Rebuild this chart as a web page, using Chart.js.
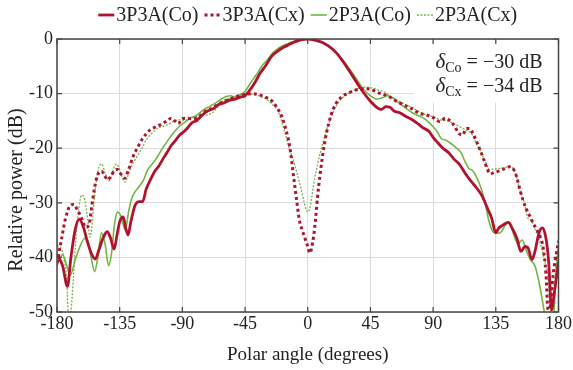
<!DOCTYPE html>
<html>
<head>
<meta charset="utf-8">
<script src="https://cdn.jsdelivr.net/npm/chart.js@4.4.1/dist/chart.umd.min.js"></script>
<style>
  html, body { margin: 0; padding: 0; background: #fff; }
</style>
</head>
<body>
<canvas id="grafico" width="573" height="370"></canvas>
<script>
// === Dados ===
const angulosTicks = [-180, -135, -90, -45, 0, 45, 90, 135, 180];
const potenciaTicks = [0, -10, -20, -30, -40, -50];
const nomes = ['3P3A(Co)', '3P3A(Cx)', '2P3A(Co)', '2P3A(Cx)'];

// [ângulo (graus), potência relativa (dB)]
const co3p3a = [
  [-180,-39.5],[-176,-41.5],[-172.5,-45.3],[-170,-40],[-167,-35],[-164,-33],[-161,-34.5],[-158,-37.3],
  [-155,-39.5],[-152.5,-40.3],[-150,-38.7],[-147,-36.5],[-144,-35.3],[-141.5,-36.5],[-139,-38.5],[-137,-36],
  [-135,-33.5],[-132.5,-32.6],[-130.5,-34.8],[-129,-35.9],[-127,-33.5],[-124,-30.5],[-121,-29.8],[-118.5,-29.8],
  [-116,-27.5],[-113,-25.8],[-110,-24.3],[-107,-23.3],[-104,-22],[-101,-20.8],[-98,-19.5],[-95,-18.6],
  [-92,-17.6],[-89,-17],[-86,-16.2],[-83,-15.3],[-80,-15],[-76,-14],[-72,-13.2],[-68,-12.8],[-64,-12],
  [-60,-11.7],[-56,-11.2],[-52,-11],[-48,-10.6],[-45,-10.4],[-42,-9.5],[-38,-8],[-34,-6.2],[-30,-4.8],
  [-26,-3.2],[-22,-2.3],[-18,-1.6],[-14,-1.1],[-10,-0.6],[-5,-0.15],[0,0],[5,-0.2],[10,-0.6],[15,-1.3],
  [20,-2.4],[25,-4],[30,-5.9],[35,-7.9],[40,-9.8],[45,-11.4],[50,-12.6],[53,-12.9],[56,-12.4],[59,-12.5],
  [62,-13.2],[66,-13.5],[70,-14.1],[75,-14.8],[79,-15.5],[83,-16.3],[87,-16.9],[90,-18],[93,-18.9],[97,-20],
  [101,-20.8],[105,-22],[109,-23],[113,-24.6],[117,-26],[121,-27.2],[125,-28.7],[129,-31],[132,-32.8],
  [135,-35.5],[137,-34.7],[140,-34.1],[144,-33.6],[147,-34.8],[150,-36.4],[153,-38.9],[156,-38],[158,-38.2],
  [161,-40.4],[163,-39],[166,-35.5],[168.5,-34.6],[171,-36.5],[173,-41],[175,-49.6],[177,-46.5],[180,-40.8]
];

const cx3p3a = [
  [-180,-41],[-177,-37],[-174,-33],[-170.5,-30.5],[-168,-30.3],[-165,-31.5],[-162,-33],[-159.5,-34.5],
  [-157,-34],[-155,-30.5],[-152.5,-26.5],[-150,-24.5],[-148,-24.2],[-146,-25],[-143.5,-25.8],[-141,-25],
  [-138.5,-24],[-136.5,-23.9],[-134,-24.8],[-131.5,-25.5],[-129,-24.2],[-125.5,-21.6],[-122,-19.8],[-119,-18.4],
  [-116,-17.4],[-113,-16.6],[-109,-16.1],[-105,-15.6],[-101,-15],[-98,-14.5],[-95.5,-15],[-93,-15.5],
  [-90,-14.6],[-87,-14.5],[-83,-14.6],[-80,-14.5],[-76,-13.8],[-72,-13],[-68,-12.6],[-64,-11.9],[-60,-11.4],
  [-56,-11],[-52,-10.6],[-48,-10.3],[-44,-10.1],[-40,-10],[-35,-10.2],[-30,-10.7],[-26,-11.3],[-22,-12.6],
  [-19,-14],[-16,-16.3],[-13,-19.6],[-10,-25.5],[-8,-29.5],[-6,-33.2],[-4,-35],[-2,-36.5],[0,-38],
  [1.5,-39.2],[3.5,-37.3],[5,-34.5],[7,-29],[9,-24.5],[12,-19.2],[15,-15.5],[18,-13],[22,-11.2],
  [26,-10.3],[30,-9.8],[35,-9.3],[40,-9.1],[45,-9.2],[50,-9.8],[55,-10.2],[60,-10.8],[65,-11.6],[70,-12.2],
  [75,-12.8],[80,-13.6],[85,-13.9],[90,-14.4],[94.5,-15.1],[99,-14.5],[104,-15.5],[109,-17.4],[111,-17.6],
  [114,-16.4],[116,-16.4],[119,-17.5],[122,-19.3],[126,-21.8],[129,-23.9],[131,-24.7],[134,-24.4],
  [137,-24.2],[141,-23.8],[145,-23.4],[148,-24],[150,-25.3],[152,-27.3],[154.5,-29.5],[157,-31.2],
  [159.5,-32.5],[162,-33.8],[164.5,-35],[167,-36.3],[169,-38.2],[171,-43],[172.5,-49.6],[174,-49],
  [176,-43.5],[178,-40],[180,-37]
];

const co2p3a = [
  [-180,-41.5],[-176,-39.5],[-173,-41.5],[-170.5,-43.3],[-167,-40.5],[-163.5,-38],[-160,-36.5],[-158,-36.8],
  [-155.5,-40],[-153,-42.6],[-151,-40.5],[-148,-35.5],[-145.5,-37.5],[-143,-41.5],[-141,-39.5],[-138.5,-33.5],
  [-136.5,-31.7],[-134,-32.5],[-131,-35],[-128.5,-31.5],[-126.5,-29.3],[-124,-28],[-121,-27],[-118,-25.9],
  [-115,-24],[-112,-23],[-109,-22],[-105,-20.3],[-101,-18.8],[-97,-17.4],[-93,-16.2],[-89,-15.4],[-85,-14.6],
  [-80,-14],[-75,-13],[-70,-12.3],[-66,-11.7],[-62,-11],[-58,-10.5],[-55,-10.4],[-52,-10.8],[-48.5,-10.2],
  [-45,-9.6],[-41,-8],[-37,-6.6],[-33,-5],[-29,-3.8],[-25,-2.5],[-20,-1.5],[-15,-0.9],[-10,-0.4],[-5,-0.1],
  [0,0],[5,-0.1],[10,-0.5],[15,-1.2],[20,-2.3],[25,-3.8],[30,-5.5],[35,-7.3],[40,-9.2],[45,-10.4],[50,-11],
  [54,-10.7],[57,-10.4],[61,-10.8],[65,-11.6],[70,-12.6],[75,-13.5],[80,-14.1],[85,-14.8],[89,-15.8],
  [93,-17],[96,-18.3],[99,-18.5],[102,-19],[106,-19.8],[110,-20.8],[113,-22.5],[116,-23.8],[118,-24],
  [121,-25.2],[124,-27],[127,-29.6],[130,-33.3],[133,-35.3],[136,-35.6],[139,-35.3],[142,-34],[145,-33.6],
  [148,-36],[151,-37.5],[154,-36.8],[157,-38.8],[160,-40.5],[163,-41.5],[166,-44.5],[168.5,-48],[170.5,-51],
  [173,-55],[176,-53],[178,-44],[180,-38]
];

const cx2p3a = [
  [-180,-37.8],[-176.5,-38.6],[-174.5,-41],[-173,-44],[-171.5,-52],[-170,-50],[-168.3,-44],[-166,-35],
  [-164,-30.5],[-162.3,-28.6],[-160,-29.5],[-158,-33],[-156.3,-36.3],[-155,-34.5],[-153.5,-30],[-151.5,-25.5],
  [-150,-23.5],[-148,-22.9],[-145.5,-24.5],[-143,-26],[-141,-25.3],[-139,-23.5],[-137.2,-22.9],[-135,-24],
  [-133,-25.5],[-131,-26.2],[-129,-25],[-126,-23],[-122.5,-21.5],[-119,-20],[-116,-18.5],[-112,-17.3],
  [-108,-16.4],[-104,-16],[-100,-15.6],[-96,-15],[-92,-14.8],[-88,-14.9],[-84,-14.5],[-80,-14.2],[-76,-14],
  [-72,-13.9],[-68,-13.4],[-65,-12.6],[-62,-11.5],[-58,-11],[-54,-10.7],[-50,-10.3],[-45,-10],[-40,-10.1],
  [-35,-10.4],[-30,-11],[-26,-11.8],[-23,-12.6],[-20.5,-13.7],[-18,-15.8],[-15.5,-18],[-13,-20.3],
  [-10.8,-21.8],[-8,-24.3],[-5,-27.2],[-2.5,-30],[0,-31.7],[1.5,-31],[3,-28.8],[5,-25.5],[7,-23],[9,-20.8],
  [12,-18],[15,-15.5],[18,-13.5],[21,-12],[25,-10.7],[30,-9.8],[35,-9.2],[40,-8.8],[45,-8.9],[50,-9.3],
  [55,-9.7],[60,-10.6],[65,-11.3],[70,-12],[75,-12.6],[80,-13.3],[85,-13.9],[90,-14.2],[95,-14.8],[100,-15],
  [105,-15.5],[110,-16.2],[115,-16.9],[118,-17.5],[121,-19.2],[124,-20.5],[127,-22.2],[130.5,-23.9],
  [134,-23.8],[138,-23.7],[142,-23.5],[146,-23.4],[149.5,-24.9],[152,-27.5],[155.5,-30],[158,-32.8],
  [160.5,-33.2],[163,-34.8],[166,-36.6],[168,-38.5],[170,-40.5],[172.5,-43.5],[174.5,-50],[176,-48],
  [178,-42],[180,-37]
];

// === Estilo ===
const fonte = '"Liberation Serif", "Times New Roman", serif';
const vermelho = '#b0122f';
const verde = '#74b442';
const corTexto = '#222';

function pontos(lista) {
  return lista.map(p => ({ x: p[0], y: p[1] }));
}

// === Plugin: moldura, ticks internos, anotação, legenda e título do eixo y ===
const extras = {
  id: 'extras',
  beforeDatasetsDraw(chart) {
    const { ctx, chartArea: a, scales } = chart;
    // fundo branco da caixa de texto (cobre a grade)
    const x0 = scales.x.getPixelForValue(76);
    const y0 = scales.y.getPixelForValue(-1);
    const y1 = scales.y.getPixelForValue(-11.6);
    ctx.save();
    ctx.fillStyle = '#fff';
    ctx.fillRect(x0, y0, a.right - x0 - 2, y1 - y0);
    ctx.restore();
  },
  afterDraw(chart) {
    const { ctx, chartArea: a, scales } = chart;
    ctx.save();
    // moldura
    ctx.strokeStyle = '#444';
    ctx.lineWidth = 1.5;
    ctx.strokeRect(a.left, a.top, a.right - a.left, a.bottom - a.top);
    // ticks internos
    ctx.lineWidth = 1.2;
    ctx.beginPath();
    angulosTicks.forEach(v => {
      const px = scales.x.getPixelForValue(v);
      ctx.moveTo(px, a.bottom); ctx.lineTo(px, a.bottom - 5);
      ctx.moveTo(px, a.top); ctx.lineTo(px, a.top + 5);
    });
    potenciaTicks.forEach(v => {
      const py = scales.y.getPixelForValue(v);
      ctx.moveTo(a.left, py); ctx.lineTo(a.left + 5, py);
      ctx.moveTo(a.right, py); ctx.lineTo(a.right - 5, py);
    });
    ctx.stroke();

    // anotação δ
    ctx.fillStyle = corTexto;
    ctx.textBaseline = 'alphabetic';
    const linhas = [['Co', ' = \u221230 dB'], ['Cx', ' = \u221234 dB']];
    linhas.forEach((l, i) => {
      const base = a.top + 29 + i * 24;
      ctx.font = `italic 21px ${fonte}`;
      const wd = ctx.measureText('\u03B4').width;
      ctx.font = `14px ${fonte}`;
      const ws = ctx.measureText(l[0]).width;
      ctx.font = `20px ${fonte}`;
      const wr = ctx.measureText(l[1]).width;
      let x = a.right - 16 - wr - ws - wd;
      ctx.font = `italic 21px ${fonte}`;
      ctx.fillText('\u03B4', x, base);
      x += wd;
      ctx.font = `14px ${fonte}`;
      ctx.fillText(l[0], x, base + 4);
      x += ws;
      ctx.font = `20px ${fonte}`;
      ctx.fillText(l[1], x, base);
    });

    // legenda
    const ds = chart.data.datasets;
    const amostra = 16, vao = 2, esp = 6;
    ctx.font = `20px ${fonte}`;
    const larguras = ds.map(d => amostra + vao + ctx.measureText(d.label).width);
    const total = larguras.reduce((s, w) => s + w, 0) + esp * (ds.length - 1);
    let lx = (a.left + a.right) / 2 - total / 2;
    const ly = 15;
    ds.forEach((d, i) => {
      ctx.strokeStyle = d.borderColor;
      ctx.lineWidth = d.borderWidth;
      ctx.setLineDash(d.borderDash || []);
      ctx.beginPath();
      ctx.moveTo(lx, ly); ctx.lineTo(lx + amostra, ly);
      ctx.stroke();
      ctx.setLineDash([]);
      ctx.textBaseline = 'middle';
      ctx.fillText(d.label, lx + amostra + vao, ly + 1);
      lx += larguras[i] + esp;
    });

    // título do eixo y
    ctx.translate(17, 190);
    ctx.rotate(-Math.PI / 2);
    ctx.textAlign = 'center';
    ctx.textBaseline = 'middle';
    ctx.font = `20px ${fonte}`;
    ctx.fillText('Relative power (dB)', 0, 0);
    ctx.restore();
  }
};

const ctx = document.getElementById('grafico').getContext('2d');
new Chart(ctx, {
  type: 'line',
  data: {
    datasets: [
      { label: nomes[0], data: pontos(co3p3a), borderColor: vermelho, borderWidth: 2.8 },
      { label: nomes[1], data: pontos(cx3p3a), borderColor: vermelho, borderWidth: 3, borderDash: [3, 3] },
      { label: nomes[2], data: pontos(co2p3a), borderColor: verde, borderWidth: 1.6 },
      { label: nomes[3], data: pontos(cx2p3a), borderColor: verde, borderWidth: 1.3, borderDash: [2, 1.5] }
    ]
  },
  options: {
    responsive: false,
    animation: false,
    devicePixelRatio: 1,
    layout: { padding: { top: 39, right: 14, left: 0, bottom: 0 } },
    elements: {
      point: { radius: 0 },
      line: { cubicInterpolationMode: 'monotone', fill: false }
    },
    plugins: { legend: { display: false }, tooltip: { enabled: false } },
    scales: {
      x: {
        type: 'linear',
        min: -180,
        max: 180,
        afterBuildTicks: s => { s.ticks = angulosTicks.map(v => ({ value: v })); },
        afterFit: s => { s.height = 58; },
        ticks: { font: { family: fonte, size: 18 }, color: corTexto, padding: 1, maxRotation: 0 },
        grid: { color: '#dcdcdc', tickLength: 0 },
        border: { display: false },
        title: {
          display: true, text: 'Polar angle (degrees)', color: corTexto,
          font: { family: fonte, size: 19 }, padding: { top: 0, bottom: 4 }
        }
      },
      y: {
        min: -50,
        max: 0,
        afterBuildTicks: s => { s.ticks = potenciaTicks.map(v => ({ value: v })); },
        afterFit: s => { s.width = 57; },
        ticks: { font: { family: fonte, size: 18 }, color: corTexto, padding: 4 },
        grid: { color: '#dcdcdc', tickLength: 0 },
        border: { display: false }
      }
    }
  },
  plugins: [extras]
});
</script>
</body>
</html>
